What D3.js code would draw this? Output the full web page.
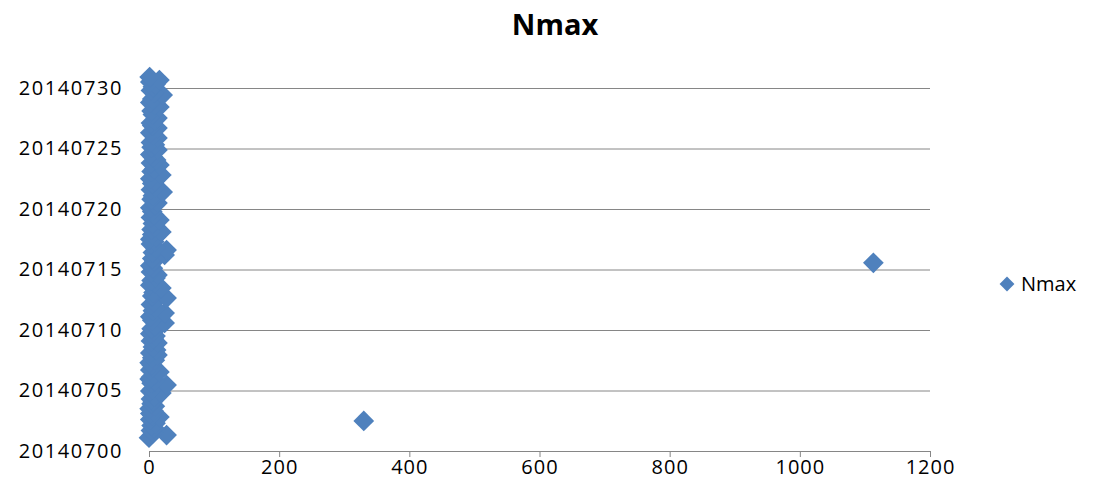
<!DOCTYPE html>
<meta http-equiv="Content-type" content="text/html; charset=UTF-8"/>
<style>
  body { margin: 0; background: #fff; }
  * { font-family: 'Open Sans', 'Liberation Sans', Arial, sans-serif; }
</style>
<svg width="1096" height="498"></svg>
<script src="https://d3js.org/d3.v7.min.js"></script>
<script>
// y value = date stamp (yyyymmdd + fraction of day), x value = Nmax
var stamp = [
  20140701.1, 20140701.32, 20140701.5, 20140701.7, 20140701.9,
  20140702.1, 20140702.3, 20140702.48, 20140702.6, 20140702.81, 20140702.95,
  20140703.1, 20140703.3, 20140703.5, 20140703.7, 20140703.9,
  20140704.1, 20140704.3, 20140704.5, 20140704.79, 20140704.95,
  20140705.1, 20140705.45, 20140705.6, 20140705.8, 20140705.95,
  20140706.1, 20140706.3, 20140706.53, 20140706.7, 20140706.9,
  20140707.1, 20140707.3, 20140707.5, 20140707.7, 20140707.93,
  20140708.1, 20140708.35, 20140708.6, 20140708.93,
  20140709.1, 20140709.3, 20140709.5, 20140709.7, 20140709.9,
  20140710.1, 20140710.3, 20140710.58, 20140710.8,
  20140711.1, 20140711.4, 20140711.6, 20140711.8,
  20140712.1, 20140712.3, 20140712.64, 20140712.8,
  20140713.1, 20140713.47, 20140713.7, 20140713.9,
  20140714.1, 20140714.3, 20140714.55, 20140714.8,
  20140715.1, 20140715.3, 20140715.55, 20140715.7, 20140715.9,
  20140716.2, 20140716.4, 20140716.61, 20140716.8,
  20140717.1, 20140717.3, 20140717.5, 20140717.7, 20140717.9,
  20140718.1, 20140718.3, 20140718.5, 20140718.8,
  20140719.09, 20140719.3, 20140719.5, 20140719.8,
  20140720.1, 20140720.3, 20140720.5, 20140720.8,
  20140721.1, 20140721.4, 20140721.6, 20140721.8,
  20140722.1, 20140722.3, 20140722.5, 20140722.81,
  20140723.1, 20140723.3, 20140723.64, 20140723.8,
  20140724.05, 20140724.3, 20140724.5, 20140724.88,
  20140725.1, 20140725.3, 20140725.5, 20140725.87,
  20140726.1, 20140726.3, 20140726.69, 20140726.9,
  20140727.1, 20140727.3, 20140727.52, 20140727.8,
  20140728.1, 20140728.43, 20140728.6, 20140728.8,
  20140729.1, 20140729.42, 20140729.6, 20140729.8,
  20140730.1, 20140730.3, 20140730.5, 20140730.66, 20140730.9
];
var nmax = [
  0, 27, 6, 3, 8,
  4, 10, 330, 2, 16, 5,
  2, 7, 1, 9, 4,
  6, 3, 8, 19, 2,
  5, 27, 4, 9, 1,
  3, 8, 16, 2, 6,
  4, 1, 9, 5, 13,
  2, 11, 6, 13,
  3, 7, 10, 2, 8,
  4, 9, 24, 5,
  2, 24, 6, 10,
  3, 8, 27, 5,
  7, 19, 2, 9,
  4, 10, 13, 3,
  6, 2, 1113, 8, 5,
  24, 6, 27, 10,
  3, 8, 2, 11, 5,
  19, 4, 9, 6,
  16, 3, 8, 5,
  2, 9, 13, 4,
  6, 21, 3, 10,
  5, 9, 2, 19,
  4, 8, 16, 3,
  11, 6, 2, 13,
  4, 9, 3, 13,
  7, 2, 13, 5,
  3, 8, 13, 6,
  4, 16, 9, 2,
  5, 21, 8, 3,
  6, 10, 2, 16, 1
];
var xTicks = [0, 200, 400, 600, 800, 1000, 1200];
var yTicks = [20140700, 20140705, 20140710, 20140715, 20140720, 20140725, 20140730];
var seriesName = "Nmax";

var data = stamp.map(function(s, i) { return {t: s, n: nmax[i]}; });

var svg = d3.select("svg"),
    plotLeft = 149, plotRight = 930, plotTop = 88, plotBottom = 451;

var x = d3.scaleLinear().domain([0, 1200]).range([plotLeft, plotRight]);
var y = d3.scaleLinear().domain([20140700, 20140730]).range([plotBottom, plotTop]);

svg.append("text")
    .attr("x", 555)
    .attr("y", 35)
    .attr("text-anchor", "middle")
    .style("font-size", "29px")
    .style("font-weight", "bold")
    .text(seriesName);

// y axis: gridlines + labels
var gy = svg.append("g")
    .attr("transform", "translate(" + plotLeft + ",0)")
    .call(d3.axisLeft(y).tickValues(yTicks).tickFormat(d3.format("d"))
      .tickSize(-(plotRight - plotLeft)).tickPadding(26));
gy.select(".domain").remove();
gy.selectAll("line").attr("stroke", "#868686");
gy.selectAll("text")
    .attr("fill", "#000")
    .style("font-size", "20px")
    .style("letter-spacing", "1.6px")
    .attr("font-family", null);

// x axis
var gx = svg.append("g")
    .attr("transform", "translate(0," + plotBottom + ")")
    .call(d3.axisBottom(x).tickValues(xTicks).tickFormat(d3.format("d"))
      .tickSize(6).tickPadding(3));
gx.select(".domain").attr("stroke", "#868686").attr("d", "M" + plotLeft + ",0.5H" + plotRight);
gx.selectAll("line").attr("stroke", "#868686");
gx.selectAll("text")
    .attr("fill", "#000")
    .style("font-size", "20px")
    .style("letter-spacing", "1px")
    .attr("font-family", null);

var diamond = d3.symbol().type(d3.symbolSquare).size(215);

svg.append("g").selectAll("path")
  .data(data)
  .join("path")
    .attr("d", diamond)
    .attr("transform", function(d) { return "translate(" + x(d.n) + "," + y(d.t) + ") rotate(45)"; })
    .attr("fill", "#4F81BD");

// legend
var lg = svg.append("g").attr("transform", "translate(1007,284)");
lg.append("path")
    .attr("d", d3.symbol().type(d3.symbolSquare).size(110))
    .attr("transform", "rotate(45)")
    .attr("fill", "#4F81BD");
lg.append("text")
    .attr("x", 14)
    .attr("dy", "0.35em")
    .style("font-size", "20px")
    .text(seriesName);
</script>
